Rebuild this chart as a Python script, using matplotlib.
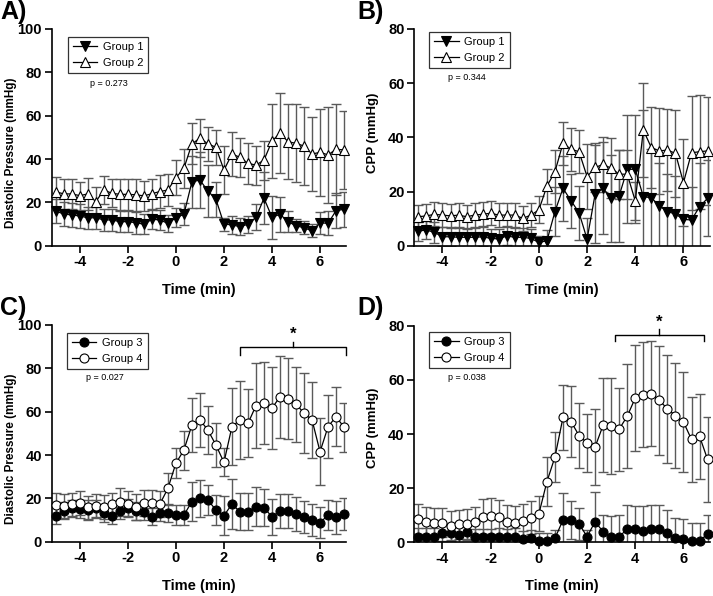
import numpy as np
import matplotlib
matplotlib.use('Agg')
import matplotlib.pyplot as plt
from matplotlib.lines import Line2D

plt.rcParams['font.family'] = ['Liberation Sans', 'DejaVu Sans']
plt.rcParams['axes.unicode_minus'] = False

# ---- time base (seconds relative to event) ----
time_s = [-300, -280, -260, -240, -220, -200, -180, -160, -140, -120, -100, -80,
          -60, -40, -20, 0, 20, 40, 60, 80, 100, 120, 140, 160, 180, 200, 220,
          240, 260, 280, 300, 320, 340, 360, 380, 400, 420]
time_min = np.array(time_s) / 60.0

# ---- Panel A: Diastolic pressure, Group 1 / Group 2 ----
a_g1 = [16.0, 14.6, 14.2, 13.7, 12.9, 12.9, 11.9, 11.9, 11.1, 11.1, 10.6, 9.9, 12.2,
        11.9, 10.3, 12.9, 14.5, 29.5, 30.3, 25.2, 21.4, 10.0, 9.6, 8.8, 9.9, 13.1,
        21.9, 13.1, 14.5, 11.1, 9.2, 8.3, 6.8, 10.6, 10.3, 16.2, 16.8]
a_g1_err = [5.5, 5.5, 5.5, 5.5, 5, 5, 5, 5, 5, 5, 5, 4.5, 4.5, 4.5, 4, 4.5, 5, 12, 13,
            12, 8, 3, 4, 4, 4, 6, 12, 10, 8, 5, 3, 3, 3, 5, 5.5, 8, 8]
a_g2 = [24.9, 23.9, 23.9, 23.1, 23.9, 20.3, 25.7, 24.2, 23.7, 23.7, 23.5, 23.0, 24.0,
        25.0, 25.7, 31.4, 35.7, 47.0, 49.6, 47.0, 45.4, 34.9, 42.3, 40.8, 38.0, 37.2,
        39.5, 48.3, 51.9, 48.0, 47.2, 46.0, 42.3, 43.1, 41.9, 44.5, 44.2]
a_g2_err = [7, 7, 7, 6.5, 7.5, 6.7, 6.5, 6.5, 7, 7, 7.3, 7, 7, 7.5, 7.5, 8, 9, 9.5, 8.7,
            8, 8, 11, 10, 9, 9.5, 9, 9, 17, 18.4, 17.2, 18, 18, 17, 20, 22, 21, 18]

# ---- Panel B: CPP, Group 1 / Group 2 ----
b_g1 = [5.4, 5.8, 4.9, 3.3, 3.3, 3.1, 3.1, 3.1, 3.3, 2.7, 2.5, 3.6, 3.1, 3.1, 2.7, 1.2,
        1.8, 12.6, 21.2, 16.6, 12.2, 2.4, 19.0, 21.2, 17.5, 18.5, 28.2, 28.2, 18.1,
        17.7, 14.7, 12.6, 11.7, 9.7, 9.5, 14.4, 17.5]
b_g1_err = [3.5, 3.5, 4, 3.5, 3.5, 3.5, 3.5, 3.5, 3.5, 3.5, 3.5, 3.5, 3.5, 3.5, 3.5, 2.5,
            4, 9, 12, 10, 10, 8, 18, 17, 16, 17, 20, 20, 32, 18, 16, 14, 14, 12, 12,
            16, 14]
b_g2 = [10.7, 11.0, 11.6, 11.3, 11.0, 11.3, 10.7, 11.3, 11.6, 12.0, 11.3, 11.3, 11.3,
        10.1, 11.3, 13.2, 22.0, 27.3, 37.8, 35.6, 34.7, 25.5, 28.9, 30.0, 28.6, 26.4,
        26.4, 16.5, 42.7, 36.2, 35.0, 35.3, 34.1, 23.3, 34.3, 34.7, 35.0]
b_g2_err = [4.5, 4.5, 4.5, 4.5, 4.5, 4.5, 4.5, 4.5, 4.5, 4.5, 4.5, 4.5, 4.5, 4.5, 4.5,
            5, 6.5, 8, 8, 8, 8, 12, 9, 10, 11, 9, 9, 7, 17.5, 15, 16, 15, 16, 16, 21,
            21, 20]

# ---- Panel C: Diastolic pressure, Group 3 / Group 4 ----
c_g3 = [12.0, 14.3, 15.4, 15.1, 14.6, 15.4, 13.1, 12.0, 14.3, 15.7, 14.2, 13.8, 11.5,
        13.4, 13.1, 12.3, 12.3, 18.5, 20.0, 19.2, 14.6, 12.0, 17.4, 13.8, 13.8, 16.2,
        15.7, 11.5, 14.2, 14.2, 12.8, 11.5, 10.0, 8.8, 12.3, 11.2, 12.8]
c_g3_err = [4, 4, 4, 4, 4.5, 4, 4, 4, 4, 4, 4, 4, 4, 4, 4, 4.5, 4.5, 9, 8.5, 7, 7, 9,
            11.5, 8.5, 8.5, 9, 8.5, 8.2, 8, 8, 8, 7.5, 7.5, 7, 7, 7.5, 7.5]
c_g4 = [16.9, 16.6, 17.2, 17.7, 15.8, 16.5, 16.2, 17.2, 18.5, 17.4, 16.0, 17.7, 17.7,
        17.4, 24.6, 36.2, 42.3, 53.8, 56.2, 51.5, 44.6, 36.6, 53.1, 56.2, 54.6, 62.8,
        63.9, 61.6, 66.9, 65.9, 63.5, 59.3, 56.2, 41.5, 53.1, 57.7, 52.8]
c_g4_err = [5.5, 5.5, 5.5, 5.5, 5.5, 5.5, 5.5, 5.5, 6.5, 6, 6, 6, 6, 6, 7, 7, 9, 12.4,
            12.6, 11, 10, 6.5, 17.7, 18, 15.7, 19.5, 19, 19, 19, 18.7, 17.3, 18.4,
            17.6, 15.5, 14.6, 13.5, 11.4]

# ---- Panel D: CPP, Group 3 / Group 4 ----
d_g3 = [2.1, 2.1, 2.1, 3.3, 3.3, 2.7, 3.7, 1.8, 1.8, 1.8, 2.1, 1.8, 2.1, 1.2, 1.5, 0.6,
        0.6, 1.5, 8.2, 8.2, 6.8, 2.1, 7.6, 3.9, 2.1, 2.1, 4.9, 5.0, 4.3, 4.9, 4.8, 3.5,
        1.5, 1.2, 0.6, 0.6, 3.0]
d_g3_err = [3, 3, 3, 3, 3, 3, 3, 3, 3, 3, 3, 3, 3, 3, 3, 3, 3, 3, 10, 7, 6, 2.5, 11, 6,
            7.5, 8, 9, 8.5, 9, 9, 9, 8.5, 7.5, 7.5, 6.5, 6.5, 7]
d_g4 = [8.6, 7.6, 7.3, 7.3, 6.2, 6.6, 6.9, 7.6, 9.5, 9.7, 9.2, 7.6, 7.3, 8.0, 9.1, 10.5,
        22.4, 31.5, 46.1, 44.6, 39.4, 36.7, 35.2, 43.3, 43.1, 41.8, 46.6, 53.3, 54.5,
        54.9, 52.4, 49.3, 46.8, 44.4, 38.0, 39.2, 30.6]
d_g4_err = [5.5, 5.5, 5.5, 5.5, 5.5, 5.5, 5.5, 5.5, 6.5, 6.5, 6.5, 6, 6, 6, 6, 6.5, 9,
            9.2, 12, 13, 12, 10.7, 14, 17.5, 17.7, 15.3, 19.3, 19.7, 19.3, 19.4, 20.2,
            20, 19.5, 18.5, 15.6, 15.7, 15.6]

x_ticks = [-4, -2, 0, 2, 4, 6]
p_values = ['p = 0.273', 'p = 0.344', 'p = 0.027', 'p = 0.038']
panel_letters = ['A)', 'B)', 'C)', 'D)']
# significance brackets: (start, end, height) in data units
bracket_c = (2.67, 7.08, 90)
bracket_d = (3.14, 6.87, 76.6)

W, H = 713, 596
fig = plt.figure(figsize=(W / 100, H / 100), dpi=100)


def rect(left, top, right, bottom):
    return [left / W, 1 - bottom / H, (right - left) / W, (bottom - top) / H]


axA = fig.add_axes(rect(51.7, 29, 346, 245.7))
axB = fig.add_axes(rect(414.3, 29, 709.5, 245.7))
axC = fig.add_axes(rect(51.7, 325, 346, 541.7))
axD = fig.add_axes(rect(414.3, 325.7, 709.5, 542.3))

ERR_COLOR = '#5a5a5a'


def series(ax, y, err, marker, face):
    ax.errorbar(time_min, y, yerr=err, fmt='none', ecolor=ERR_COLOR, elinewidth=1.0,
                capsize=3.5, capthick=1.0, zorder=2)
    ax.plot(time_min, y, color='black', lw=0.9, marker=marker, mfc=face, mec='black',
            ms=6.5, mew=0.8, zorder=3, clip_on=False)


def style(ax, ymax, ylabel, ylab_y, ylab_size):
    ax.set_xlim(-5.17, 7.08)
    ax.set_ylim(0, ymax)
    ax.set_xticks(x_ticks)
    ax.set_yticks(np.arange(0, ymax + 1, 20))
    for s in ['top', 'right']:
        ax.spines[s].set_visible(False)
    for s in ['left', 'bottom']:
        ax.spines[s].set_linewidth(1.2)
    ax.tick_params(direction='out', length=5, width=1.2, labelsize=10.5, pad=2)
    for lab in ax.get_xticklabels() + ax.get_yticklabels():
        lab.set_fontweight('bold')
    ax.set_xlabel('Time (min)', fontsize=10.5, fontweight='bold')
    ax.xaxis.set_label_coords(0.5, -0.17)
    ax.set_ylabel(ylabel, fontsize=ylab_size, fontweight='bold')
    ax.yaxis.set_label_coords(-0.118, ylab_y)


def legend(ax, labels, markers, faces, anchor):
    handles = [Line2D([0], [0], color='black', lw=0.9, marker=m, mfc=f, mec='black',
                      ms=6.5, mew=0.8) for m, f in zip(markers, faces)]
    leg = ax.legend(handles, labels, loc='upper left', bbox_to_anchor=anchor,
                    fontsize=8, frameon=True, fancybox=False, handlelength=2.2,
                    handletextpad=0.5, labelspacing=0.5, borderpad=0.45,
                    borderaxespad=0)
    leg.get_frame().set_edgecolor('black')
    leg.get_frame().set_linewidth(0.9)


series(axA, a_g1, a_g1_err, 'v', 'black')
series(axA, a_g2, a_g2_err, '^', 'white')
style(axA, 100, 'Diastolic Pressure (mmHg)', 0.43, 8.5)
legend(axA, ['Group 1', 'Group 2'], ['v', '^'], ['black', 'white'], (0.055, 0.963))

series(axB, b_g1, b_g1_err, 'v', 'black')
series(axB, b_g2, b_g2_err, '^', 'white')
style(axB, 80, 'CPP (mmHg)', 0.52, 9.5)
legend(axB, ['Group 1', 'Group 2'], ['v', '^'], ['black', 'white'], (0.05, 0.986))

series(axC, c_g3, c_g3_err, 'o', 'black')
series(axC, c_g4, c_g4_err, 'o', 'white')
style(axC, 100, 'Diastolic Pressure (mmHg)', 0.43, 8.5)
legend(axC, ['Group 3', 'Group 4'], ['o', 'o'], ['black', 'white'], (0.052, 0.963))

series(axD, d_g3, d_g3_err, 'o', 'black')
series(axD, d_g4, d_g4_err, 'o', 'white')
style(axD, 80, 'CPP (mmHg)', 0.53, 9.5)
legend(axD, ['Group 3', 'Group 4'], ['o', 'o'], ['black', 'white'], (0.05, 0.971))


def bracket(ax, b, drop, rise, star_off):
    x0, x1, h = b
    xm = (x0 + x1) / 2
    ax.plot([x0, x0, x1, x1], [h - drop, h, h, h - drop], color='black', lw=1.0,
            clip_on=False, zorder=4)
    ax.plot([xm, xm], [h, h + rise], color='black', lw=1.0, clip_on=False, zorder=4)
    ax.text(xm, h + star_off, '*', ha='center', va='center', fontsize=12,
            fontweight='bold')


bracket(axC, bracket_c, 4, 2.3, 5.5)
bracket(axD, bracket_d, 2.1, 2.0, 4.8)

# p-values
p_pos = [(109, 83), (467, 77), (105, 378), (467, 378)]
for (px, py), txt in zip(p_pos, p_values):
    fig.text(px / W, 1 - py / H, txt, ha='center', va='center', fontsize=6.5)

# panel letters
letter_pos = [(0, 0), (357, 0), (0, 296), (357, 296)]
for (px, py), txt in zip(letter_pos, panel_letters):
    fig.text(px / W, 1 - py / H, txt, ha='left', va='top', fontsize=18,
             fontweight='bold')

fig.savefig('out.png', dpi=100)
